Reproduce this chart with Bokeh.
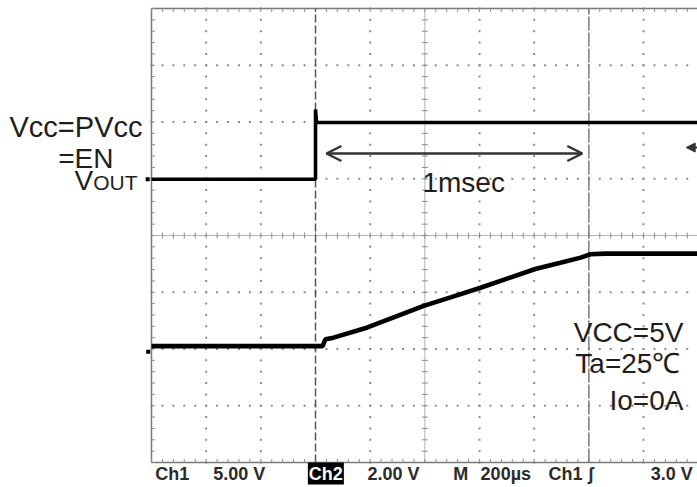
import numpy as np
from bokeh.plotting import figure
from bokeh.models import Range1d, Label, Arrow, OpenHead, NormalHead
from bokeh.embed import file_html
from bokeh.resources import INLINE

# ---- data (screen divisions: 10 horizontal x 200us, 8 vertical) ----
ch1_t = [0.0, 3.0, 3.0, 3.02, 10.0]
ch1_v = [4.99, 4.99, 6.22, 5.99, 5.99]

ch2_t = [0.0, 3.13, 3.18, 3.33, 3.95, 4.98, 5.47, 6.02, 7.02, 7.48, 7.85, 8.03, 8.3, 10.0]
ch2_v = [2.05, 2.05, 2.17, 2.20, 2.38, 2.76, 2.91, 3.08, 3.41, 3.52, 3.61, 3.67, 3.68, 3.68]

n_xdiv = 10
n_ydiv = 8
trigger_pos = 3.0
cursor_pos = 8.0
dotted_x = [1, 2, 4, 6, 7, 9]
dotted_y = [1, 2, 3, 5, 6, 7]

status_text = ["Ch1", "5.00 V", "2.00 V", "M", "200µs", "Ch1", "ʃ"]
status_x = [0.07, 1.13, 3.95, 5.52, 6.02, 7.26, 7.98]

GRID = "#8c8c8c"
EDGE = "#7a7a7a"
TXT = "#1e1e1e"
FONT = "Liberation Sans"

XPX = 54.67   # px per horizontal division
YPX = 56.75   # px per vertical division
W, H = 697, 487
X0, Y0 = 151, 462   # graticule origin within the canvas

p = figure(width=W, height=H,
           x_range=Range1d(-X0 / XPX, (W - X0) / XPX),
           y_range=Range1d((Y0 - H) / YPX, Y0 / YPX),
           output_backend="svg", toolbar_location=None,
           x_axis_location=None, y_axis_location=None,
           min_border=0, outline_line_color=None,
           background_fill_color="white", border_fill_color="white")
p.grid.visible = False

# dotted graticule
minor_x = np.arange(0, n_xdiv + 0.001, 0.2)
minor_y = np.arange(0, n_ydiv + 0.001, 0.2)
gx, gy = [], []
for yy in dotted_y:
    gx += list(minor_x); gy += [yy] * len(minor_x)
for xx in dotted_x:
    gx += [xx] * len(minor_y); gy += list(minor_y)
p.scatter(gx, gy, marker="square", size=2, fill_color=GRID, line_color=None)

# center cross with ticks
cx, cy = n_xdiv / 2, n_ydiv / 2
p.segment([cx], [0], [cx], [n_ydiv], line_color="#b4b4b4", line_width=1)
p.segment([0], [cy], [n_xdiv], [cy], line_color="#b4b4b4", line_width=1)
tx = 3 / XPX
ty = 3 / YPX
p.segment(minor_x, cy - ty, minor_x, cy + ty, line_color=GRID, line_width=1)
p.segment(cx - tx, minor_y, cx + tx, minor_y, line_color=GRID, line_width=1)

# frame edges with inward ticks
p.segment([0, 0, 0], [0, 0, n_ydiv], [0, n_xdiv, n_xdiv], [n_ydiv, 0, n_ydiv],
          line_color=EDGE, line_width=1.5)
ex = 3.5 / XPX
ey = 3.5 / YPX
p.segment(minor_x, 0, minor_x, ey, line_color=GRID, line_width=1)
p.segment(minor_x, n_ydiv, minor_x, n_ydiv - ey, line_color=GRID, line_width=1)
p.segment(0, minor_y, ex, minor_y, line_color=GRID, line_width=1)

# trigger position and cursor
p.line([trigger_pos, trigger_pos], [0, n_ydiv], line_color="#555555",
       line_width=1.5, line_dash="8 3")
p.line([cursor_pos, cursor_pos], [0, n_ydiv], line_color=EDGE,
       line_width=1.5, line_dash="14 2")

# channel ground markers at the left edge
p.scatter([-0.07, -0.06], [ch1_v[0], ch2_v[0] - 0.1], marker="square", size=4,
          fill_color="black", line_color=None)

# traces
p.line(ch1_t, ch1_v, line_color="black", line_width=3.6)
p.line(ch2_t, ch2_v, line_color="black", line_width=4.6)

# 1 msec arrow
p.add_layout(Arrow(x_start=3.20, y_start=5.445, x_end=7.88, y_end=5.445,
                   line_color="#333333", line_width=2.5,
                   start=OpenHead(size=15, line_color="#333333", line_width=2.5),
                   end=OpenHead(size=15, line_color="#333333", line_width=2.5)))
p.add_layout(Arrow(x_start=10.2, y_start=5.55, x_end=9.78, y_end=5.55,
                   line_color="#333333", line_width=2,
                   end=NormalHead(size=9, fill_color="#333333", line_color="#333333")))

def lab(x, y, text, align="left", size=28, color=TXT, lift=10, **kw):
    p.add_layout(Label(x=x, y=y + lift / YPX, text=text, text_align=align,
                       text_baseline="alphabetic", text_font=FONT,
                       text_font_size=f"{size}px", text_color=color, **kw))

lab(5.71, 4.76, "1msec", align="center")
lab(-0.165, 5.727, "Vcc=PVcc", align="right", size=29)
lab(-0.695, 5.18, "=EN", align="right")
lab(-1.408, 4.79, "V")
lab(-0.256, 4.79, "OUT", align="right", size=21, lift=8)
lab(9.73, 2.115, "VCC=5V", align="right")
lab(9.675, 1.568, "Ta=25℃", align="right")
lab(9.73, 0.916, "Io=0A", align="right")

# status line
for t, x in zip(status_text, status_x):
    lab(x, -0.282, t, size=18, color="#2b2b2b", lift=5, text_font_style="bold")
lab(9.9, -0.282, "3.0 V", align="right", size=18, color="#2b2b2b", lift=5,
    text_font_style="bold")
lab(2.86, -0.282, "Ch2", size=18, color="white", lift=5, text_font_style="bold",
    background_fill_color="black", padding=1)

open("out.html", "w").write(file_html(p, INLINE))
